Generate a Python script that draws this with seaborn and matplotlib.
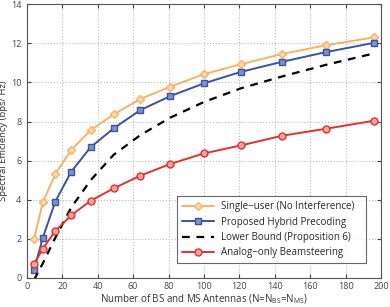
import matplotlib
matplotlib.use("Agg")
import matplotlib.pyplot as plt
import seaborn as sns
import pandas as pd
import numpy as np

# antenna counts (N = NBS = NMS)
n_antennas = [4, 9, 16, 25, 36, 49, 64, 81, 100, 121, 144, 169, 196]

single_user = [1.98, 3.87, 5.31, 6.54, 7.56, 8.36, 9.15, 9.78, 10.42, 10.93, 11.45, 11.9, 12.3]
hybrid = [0.41, 2.06, 3.9, 5.43, 6.69, 7.65, 8.58, 9.3, 9.95, 10.54, 11.05, 11.55, 12.02]
lower_bound = [-0.1, 0.75, 2.05, 3.6, 5.0, 6.3, 7.3, 8.2, 9.0, 9.7, 10.3, 10.9, 11.48]
analog = [0.7, 1.5, 2.4, 3.2, 3.95, 4.58, 5.23, 5.83, 6.37, 6.78, 7.27, 7.63, 8.04]

labels = ['Single\u2212user (No Interference)', 'Proposed Hybrid Precoding',
          'Lower Bound (Proposition 6)', 'Analog\u2212only Beamsteering']

sns.set_style("ticks")
plt.rcParams['font.family'] = ['Open Sans', 'DejaVu Sans']
plt.rcParams['mathtext.fontset'] = 'custom'
plt.rcParams['mathtext.rm'] = 'Open Sans'
plt.rcParams['mathtext.it'] = 'Open Sans'

fig = plt.figure(figsize=(3.9, 3.07), dpi=100)
ax = fig.add_axes([0.069, 0.0945, 0.908, 0.892])

df = pd.DataFrame({'N': n_antennas, 's': single_user, 'h': hybrid,
                   'lb': lower_bound, 'a': analog})

sns.lineplot(data=df, x='N', y='s', ax=ax, color='#FBB065', lw=1.4,
             marker='D', markersize=4.5, markerfacecolor='#FDD9AE',
             markeredgecolor='#FBB065', markeredgewidth=1.0, label=labels[0])
sns.lineplot(data=df, x='N', y='h', ax=ax, color='#3A52A3', lw=1.4,
             marker='s', markersize=4.5, markerfacecolor='#7F92CC',
             markeredgecolor='#3A52A3', markeredgewidth=1.0, label=labels[1])
sns.lineplot(data=df, x='N', y='lb', ax=ax, color='black', lw=1.6,
             linestyle=(0, (3.5, 3)), label=labels[2])
sns.lineplot(data=df, x='N', y='a', ax=ax, color='#E2312E', lw=1.4,
             marker='o', markersize=5, markerfacecolor='#F3A5A0',
             markeredgecolor='#E2312E', markeredgewidth=1.0, label=labels[3])

ax.set_xlim(0, 200)
ax.set_ylim(0, 14)
ax.set_xticks(np.arange(0, 201, 20))
ax.set_yticks(np.arange(0, 15, 2))
ax.grid(True, linestyle=':', color='#BBBBBB', lw=0.8)
for sp in ax.spines.values():
    sp.set_color('#555555')
    sp.set_linewidth(0.8)
ax.tick_params(direction='in', length=3, labelsize=6.5, colors='#444444',
               top=True, right=True, pad=3)
ax.tick_params(axis='y', pad=4)
ax.set_xlabel('Number of BS and MS Antennas (N=N$_{\\mathrm{BS}}$=N$_{\\mathrm{MS}}$)',
              fontsize=7, color='#333333', labelpad=1)
ax.set_ylabel('Spectral Efficiency (bps/ Hz)', fontsize=6.8, color='#333333', labelpad=0)
ax.yaxis.set_label_coords(-0.052, 0.5)

leg = ax.legend(loc='lower left', bbox_to_anchor=(0.423, 0.054, 0.534, 0.237),
                mode='expand', fontsize=7, frameon=True, fancybox=False,
                edgecolor='#444444', borderaxespad=0, handlelength=3.3,
                labelspacing=0.45, borderpad=0.5)
leg.get_frame().set_linewidth(0.8)

fig.savefig('out.png', dpi=100)
